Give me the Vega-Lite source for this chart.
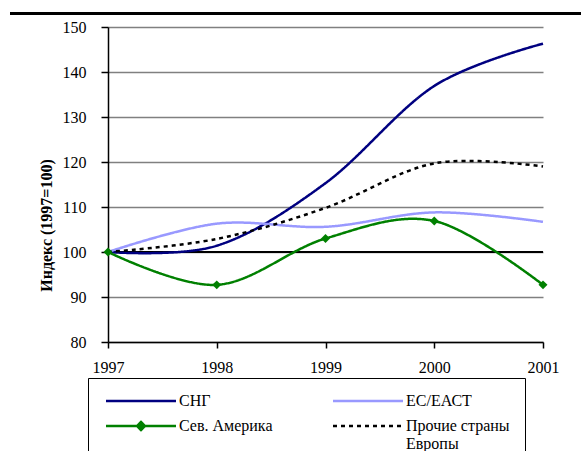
{
  "$schema": "https://vega.github.io/schema/vega-lite/v6.json",
  "width": 435,
  "height": 315,
  "autosize": {"type": "none"},
  "padding": {"left": 108, "top": 27, "right": 38, "bottom": 109},
  "background": "white",
  "config": {
    "view": {"stroke": null},
    "font": "Liberation Serif",
    "axis": {"labelFont": "Liberation Serif", "titleFont": "Liberation Serif", "labelColor": "black", "titleColor": "black", "domainColor": "black", "tickColor": "black", "labelFontSize": 16},
    "legend": {"labelFont": "Liberation Serif", "titleFont": "Liberation Serif"}
  },
  "data": {
    "values": [
      {"year": 1997, "series": "СНГ", "value": 100},
      {"year": 1998, "series": "СНГ", "value": 101.4},
      {"year": 1999, "series": "СНГ", "value": 115.3},
      {"year": 2000, "series": "СНГ", "value": 136.9},
      {"year": 2001, "series": "СНГ", "value": 146.3},
      {"year": 1997, "series": "ЕС/ЕАСТ", "value": 100},
      {"year": 1998, "series": "ЕС/ЕАСТ", "value": 106.3},
      {"year": 1999, "series": "ЕС/ЕАСТ", "value": 105.6},
      {"year": 2000, "series": "ЕС/ЕАСТ", "value": 108.8},
      {"year": 2001, "series": "ЕС/ЕАСТ", "value": 106.7},
      {"year": 1997, "series": "Сев. Америка", "value": 100},
      {"year": 1998, "series": "Сев. Америка", "value": 92.7},
      {"year": 1999, "series": "Сев. Америка", "value": 103.0},
      {"year": 2000, "series": "Сев. Америка", "value": 106.9},
      {"year": 2001, "series": "Сев. Америка", "value": 92.7},
      {"year": 1997, "series": "Прочие страны Европы", "value": 100},
      {"year": 1998, "series": "Прочие страны Европы", "value": 102.9},
      {"year": 1999, "series": "Прочие страны Европы", "value": 109.8},
      {"year": 2000, "series": "Прочие страны Европы", "value": 119.7},
      {"year": 2001, "series": "Прочие страны Европы", "value": 119.0}
    ]
  },
  "layer": [
    {
      "mark": {"type": "rule", "color": "black", "strokeWidth": 2.5, "clip": false},
      "encoding": {
        "x": {"datum": 1996.1, "type": "quantitative", "scale": {"domain": [1997, 2001], "nice": false, "zero": false}},
        "x2": {"datum": 2001.35},
        "y": {"datum": 152.97, "type": "quantitative", "scale": {"domain": [80, 150], "nice": false, "zero": false}}
      }
    },
    {
      "mark": {"type": "rule", "color": "black", "strokeWidth": 1.2},
      "encoding": {
        "y": {"datum": 100, "type": "quantitative"}
      }
    },
    {
      "mark": {"type": "line", "interpolate": "cardinal", "strokeWidth": 2.5},
      "encoding": {
        "x": {
          "field": "year", "type": "quantitative",
          "scale": {"domain": [1997, 2001], "nice": false, "zero": false},
          "axis": {"values": [1997, 1998, 1999, 2000, 2001], "format": "d", "title": null, "grid": false, "domainWidth": 1.5, "tickSize": 6, "tickWidth": 1.5, "labelPadding": 11, "labelFlush": false}
        },
        "y": {
          "field": "value", "type": "quantitative",
          "scale": {"domain": [80, 150], "nice": false, "zero": false},
          "axis": {
            "values": [80, 90, 100, 110, 120, 130, 140, 150],
            "title": "Индекс (1997=100)", "titleFontSize": 16, "titleFontWeight": "bold",
            "titleAngle": 270, "titleAlign": "center", "titleBaseline": "middle",
            "titleX": -62, "titleY": 198,
            "grid": true, "gridColor": "#808080", "gridWidth": 1.5,
            "domainWidth": 1.5, "tickSize": 7, "tickWidth": 1.5, "labelPadding": 15
          }
        },
        "color": {
          "field": "series", "type": "nominal",
          "scale": {"domain": ["СНГ", "Сев. Америка", "ЕС/ЕАСТ", "Прочие страны Европы"], "range": ["#000080", "#008000", "#9999FF", "#000000"]},
          "legend": {
            "title": null, "orient": "none", "legendX": -20, "legendY": 351,
            "direction": "vertical", "columns": 2, "columnPadding": 55, "rowPadding": 8,
            "padding": 15, "strokeColor": "black",
            "labelFont": "Liberation Serif", "labelFontSize": 16, "labelColor": "black",
            "labelOffset": 60, "labelLimit": 300,
            "symbolSize": 100,
            "labelExpr": "datum.label == 'Прочие страны Европы' ? ['Прочие страны', 'Европы'] : datum.label",
            "encode": {
              "symbols": {
                "update": {
                  "shape": {"signal": "datum.value == 'Сев. Америка' ? 'M-1,0H13M6,-0.8L6.8,0L6,0.8L5.2,0Z' : 'M-1,0H13'"},
                  "fill": {"signal": "datum.value == 'Сев. Америка' ? '#008000' : 'transparent'"},
                  "strokeDash": {"signal": "datum.value == 'Прочие страны Европы' ? [4, 4] : [1, 0]"},
                  "strokeWidth": {"value": 2.5},
                  "size": {"value": 100}
                }
              }
            }
          }
        },
        "strokeDash": {
          "field": "series", "type": "nominal",
          "scale": {"domain": ["СНГ", "Сев. Америка", "ЕС/ЕАСТ", "Прочие страны Европы"], "range": [[1, 0], [1, 0], [1, 0], [4, 4]]},
          "legend": null
        }
      }
    },
    {
      "transform": [{"filter": "datum.series == 'Сев. Америка'"}],
      "mark": {"type": "point", "shape": "diamond", "filled": true, "size": 80, "color": "#008000", "opacity": 1},
      "encoding": {
        "x": {"field": "year", "type": "quantitative"},
        "y": {"field": "value", "type": "quantitative"}
      }
    }
  ]
}
